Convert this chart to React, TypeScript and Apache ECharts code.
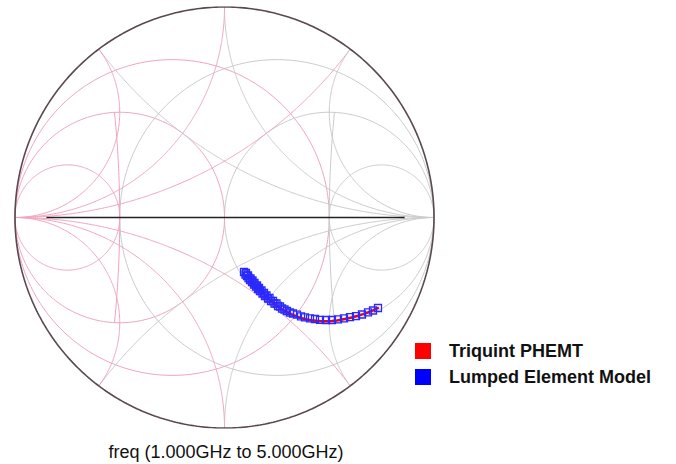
import React, { useEffect, useRef } from "react";
import * as echarts from "echarts";

// Reflection coefficient data (real, imag), 1 GHz -> 5 GHz
const lumpedRe = [0.0931, 0.1002, 0.1026, 0.1074, 0.1122, 0.1146, 0.1217, 0.1241, 0.1313, 0.1337, 0.1408, 0.1432, 0.1504, 0.1551, 0.1599, 0.1647, 0.1695, 0.1766, 0.1814, 0.1885, 0.1933, 0.2005, 0.2076, 0.2148, 0.2220, 0.2315, 0.2387, 0.2482, 0.2554, 0.2649, 0.2745, 0.2864, 0.2983, 0.3126, 0.3270, 0.3461, 0.3652, 0.3842, 0.4081, 0.4320, 0.4558, 0.4845, 0.5131, 0.5418, 0.5704, 0.5990, 0.6277, 0.6563, 0.6850, 0.7088, 0.7327];
const lumpedIm = [-0.2589, -0.2708, -0.2637, -0.2779, -0.2755, -0.2874, -0.2969, -0.2898, -0.3064, -0.2993, -0.3183, -0.3112, -0.3278, -0.3230, -0.3397, -0.3349, -0.3492, -0.3468, -0.3610, -0.3587, -0.3729, -0.3705, -0.3848, -0.3824, -0.3967, -0.3967, -0.4086, -0.4086, -0.4204, -0.4228, -0.4323, -0.4371, -0.4442, -0.4513, -0.4561, -0.4618, -0.4694, -0.4741, -0.4789, -0.4822, -0.4860, -0.4869, -0.4869, -0.4836, -0.4789, -0.4736, -0.4689, -0.4608, -0.4508, -0.4418, -0.4299];
const triquintRe = [0.105, 0.120, 0.136, 0.152, 0.168, 0.184, 0.201, 0.218, 0.236, 0.255, 0.275, 0.296, 0.318, 0.341, 0.364, 0.388, 0.412, 0.437, 0.462, 0.487, 0.512, 0.537, 0.562, 0.587, 0.612, 0.637, 0.662, 0.687, 0.712, 0.737];
const triquintIm = [-0.272, -0.292, -0.311, -0.329, -0.346, -0.362, -0.378, -0.394, -0.409, -0.423, -0.436, -0.448, -0.459, -0.469, -0.477, -0.483, -0.488, -0.491, -0.493, -0.493, -0.492, -0.489, -0.485, -0.480, -0.474, -0.467, -0.459, -0.450, -0.440, -0.428];

// Smith chart grid values
const resistanceValues = [1 / 3, 1, 3];
const reactanceValues = [0.5, 1, 2];
const seriesNames = ["Triquint PHEMT", "Lumped Element Model"];
const footerText = "freq (1.000GHz to 5.000GHz)";

const PINK = "#f0a3bb";
const GRAY = "#cacaca";

function zToGamma(r: number, x: number): [number, number] {
  const den = (r + 1) * (r + 1) + x * x;
  return [(r * r + x * x - 1) / den, (2 * x) / den];
}

function circlePts(cx: number, cy: number, rad: number, t0: number, t1: number, n = 240) {
  const pts: [number, number][] = [];
  for (let i = 0; i <= n; i++) {
    const t = t0 + ((t1 - t0) * i) / n;
    pts.push([cx + rad * Math.cos(t), cy + rad * Math.sin(t)]);
  }
  return pts;
}

function reactanceArc(x: number) {
  const pts: [number, number][] = [];
  const n = 300;
  for (let i = 0; i <= n; i++) {
    const th = (Math.PI / 2) * (i / n) * 0.999;
    pts.push(zToGamma(Math.tan(th), x));
  }
  pts.push([1, 0]);
  return pts;
}

function mirror(pts: [number, number][]) {
  return pts.map(([a, b]) => [-a, b] as [number, number]);
}

function gridLine(data: [number, number][], color: string, width = 1) {
  return {
    type: "line",
    data,
    showSymbol: false,
    silent: true,
    lineStyle: { color, width },
    z: 1,
    animation: false,
  };
}

export default function App() {
  const ref = useRef<HTMLDivElement>(null);
  useEffect(() => {
    if (!ref.current) return;
    const chart = echarts.init(ref.current, undefined, { renderer: "svg" });
    const grid: any[] = [];
    resistanceValues.forEach((r) => {
      const c = circlePts(r / (1 + r), 0, 1 / (1 + r), 0, Math.PI * 2, 360);
      grid.push(gridLine(c, GRAY));
      grid.push(gridLine(mirror(c), PINK));
    });
    reactanceValues.forEach((x) => {
      const up = reactanceArc(x);
      const dn = reactanceArc(-x);
      grid.push(gridLine(up, GRAY));
      grid.push(gridLine(dn, GRAY));
      grid.push(gridLine(mirror(up), PINK));
      grid.push(gridLine(mirror(dn), PINK));
    });
    const conn = circlePts(5.5, 0, 5.0, Math.PI - 0.1, Math.PI + 0.1, 60);
    grid.push(gridLine(conn, GRAY));
    grid.push(gridLine(mirror(conn), PINK));
    grid.push(gridLine([[-0.85, 0], [0.86, 0]], "#222222", 1.6));
    grid.push(gridLine(circlePts(0, 0, 1, 0, Math.PI * 2, 480), "#5a4852", 1.6));

    const option: any = {
      animation: false,
      backgroundColor: "#ffffff",
      grid: { left: 15, top: 7, width: 419, height: 421, containLabel: false },
      xAxis: { type: "value", min: -1, max: 1, show: false },
      yAxis: { type: "value", min: -1, max: 1, show: false },
      legend: {
        orient: "vertical",
        left: 415,
        top: 342,
        padding: 0,
        itemGap: 8,
        itemWidth: 16,
        itemHeight: 16,
        icon: "rect",
        textStyle: {
          fontSize: 18,
          fontWeight: "bold",
          color: "#111",
          fontFamily: "Liberation Sans, Arial, sans-serif",
          padding: [0, 0, 0, 13],
        },
        data: [
          { name: seriesNames[0], itemStyle: { color: "#ff0000", borderWidth: 0 } },
          { name: seriesNames[1], itemStyle: { color: "#0000ff", borderWidth: 0 } },
        ],
      },
      graphic: [
        {
          type: "text",
          x: 226,
          y: 452,
          style: {
            text: footerText,
            fontSize: 18,
            fontFamily: "Liberation Sans, Arial, sans-serif",
            fill: "#111",
            textAlign: "center",
            textVerticalAlign: "middle",
          },
        },
      ],
      series: [
        ...grid,
        {
          name: seriesNames[0],
          type: "line",
          data: triquintRe.map((v, i) => [v, triquintIm[i]]),
          showSymbol: false,
          lineStyle: { color: "#e8001c", width: 2.5 },
          itemStyle: { color: "#e8001c" },
          z: 3,
        },
        {
          name: seriesNames[1],
          type: "line",
          data: lumpedRe.map((v, i) => [v, lumpedIm[i]]),
          symbol: "rect",
          symbolSize: 7,
          showSymbol: true,
          lineStyle: { color: "#3030ee", width: 0 },
          itemStyle: { color: "rgba(0,0,0,0)", borderColor: "#2a2aff", borderWidth: 1.3 },
          z: 4,
        },
      ],
    };
    chart.setOption(option);
    return () => chart.dispose();
  }, []);
  return (
    <div
      ref={ref}
      style={{ position: "fixed", left: 0, top: 0, width: 676, height: 464, background: "#fff" }}
    />
  );
}
